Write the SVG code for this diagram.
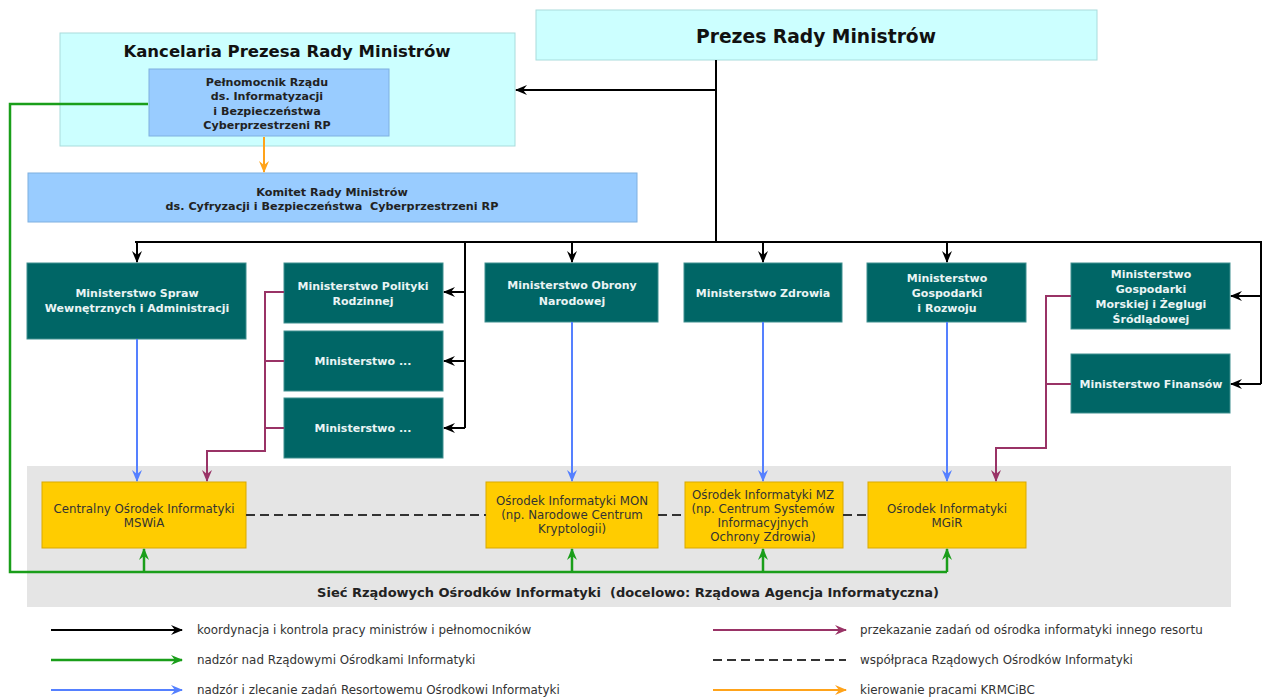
<svg xmlns="http://www.w3.org/2000/svg" width="1262" height="700" viewBox="0 0 1262 700">
<style>
.t{font-family:"DejaVu Sans","Noto Sans",sans-serif;text-anchor:middle}
.min rect{fill:#006666;stroke:#3f8f8f;stroke-width:1}
.min text{font-family:"DejaVu Sans","Noto Sans",sans-serif;font-weight:bold;font-size:11px;fill:#eaf4f4;text-anchor:middle}
.osr rect{fill:#ffcc00;stroke:#d9a900;stroke-width:1}
.osr text{font-family:"DejaVu Sans","Noto Sans",sans-serif;font-size:11.8px;fill:#333;text-anchor:middle}
.leg text{font-family:"DejaVu Sans","Noto Sans",sans-serif;font-size:11.9px;fill:#333}
.k{fill:none;stroke:#000;stroke-width:2}
.g{fill:none;stroke:#1a9e1a;stroke-width:2.5}
.b{fill:none;stroke:#5580ff;stroke-width:2}
.p{fill:none;stroke:#993366;stroke-width:2}
.o{fill:none;stroke:#ffa31a;stroke-width:2}
.d{fill:none;stroke:#333;stroke-width:2;stroke-dasharray:9 5}
</style>
<defs>
<marker id="ak" viewBox="0 0 12 10" refX="11" refY="5" markerWidth="12" markerHeight="10" markerUnits="userSpaceOnUse" orient="auto"><path d="M0,0 L12,5 L0,10 L4,5 z" fill="#000"/></marker>
<marker id="ag" viewBox="0 0 12 10" refX="11" refY="5" markerWidth="12" markerHeight="10" markerUnits="userSpaceOnUse" orient="auto"><path d="M0,0 L12,5 L0,10 L4,5 z" fill="#1a9e1a"/></marker>
<marker id="ab" viewBox="0 0 12 10" refX="11" refY="5" markerWidth="12" markerHeight="10" markerUnits="userSpaceOnUse" orient="auto"><path d="M0,0 L12,5 L0,10 L4,5 z" fill="#5580ff"/></marker>
<marker id="ap" viewBox="0 0 12 10" refX="11" refY="5" markerWidth="12" markerHeight="10" markerUnits="userSpaceOnUse" orient="auto"><path d="M0,0 L12,5 L0,10 L4,5 z" fill="#993366"/></marker>
<marker id="ao" viewBox="0 0 12 10" refX="11" refY="5" markerWidth="12" markerHeight="10" markerUnits="userSpaceOnUse" orient="auto"><path d="M0,0 L12,5 L0,10 L4,5 z" fill="#ffa31a"/></marker>
</defs>
<rect width="1262" height="700" fill="#fff"/>

<g id="siec">
<rect x="27" y="466" width="1204" height="141" fill="#e5e5e5"/>
<text class="t" x="628" y="597" font-size="13" font-weight="bold" fill="#222">Sieć Rządowych Ośrodków Informatyki&#160; (docelowo: Rządowa Agencja Informatyczna)</text>
</g>

<g id="kancelaria">
<rect x="60" y="33" width="455" height="113" fill="#ccffff" stroke="#a9dcdc" stroke-width="1"/>
<text class="t" x="287" y="57" font-size="16.5" font-weight="bold" fill="#111">Kancelaria Prezesa Rady Ministrów</text>
</g>

<g id="prezes">
<rect x="536" y="10" width="561" height="50" fill="#ccffff" stroke="#a9dcdc" stroke-width="1"/>
<text class="t" x="816" y="43" font-size="18.7" font-weight="bold" fill="#111">Prezes Rady Ministrów</text>
</g>

<g id="pelnomocnik">
<rect x="149" y="69" width="240" height="67" fill="#99ccff" stroke="#7fb0e0" stroke-width="1"/>
<text class="t" font-size="11.1" font-weight="bold" fill="#222"><tspan x="267" y="86">Pełnomocnik Rządu</tspan><tspan x="267" y="100">ds. Informatyzacji</tspan><tspan x="267" y="115">i Bezpieczeństwa</tspan><tspan x="267" y="129">Cyberprzestrzeni RP</tspan></text>
</g>

<g id="komitet">
<rect x="28" y="173" width="609" height="49" fill="#99ccff" stroke="#7fb0e0" stroke-width="1"/>
<text class="t" font-size="11.2" font-weight="bold" fill="#222"><tspan x="332" y="196">Komitet Rady Ministrów</tspan><tspan x="332" y="210">ds. Cyfryzacji i Bezpieczeństwa&#160; Cyberprzestrzeni RP</tspan></text>
</g>

<g id="mswia" class="min"><rect x="27" y="263" width="219" height="76"/><text><tspan x="137" y="297">Ministerstwo Spraw</tspan><tspan x="137" y="312">Wewnętrznych i Administracji</tspan></text></g>
<g id="mpr" class="min"><rect x="284" y="263" width="159" height="60"/><text><tspan x="363" y="290">Ministerstwo Polityki</tspan><tspan x="363" y="305">Rodzinnej</tspan></text></g>
<g id="m2" class="min"><rect x="284" y="331" width="159" height="60"/><text x="363" y="365">Ministerstwo ...</text></g>
<g id="m3" class="min"><rect x="284" y="398" width="159" height="60"/><text x="363" y="432">Ministerstwo ...</text></g>
<g id="mon" class="min"><rect x="485" y="263" width="173" height="59"/><text><tspan x="572" y="289">Ministerstwo Obrony</tspan><tspan x="572" y="305">Narodowej</tspan></text></g>
<g id="mz" class="min"><rect x="684" y="263" width="158" height="59"/><text x="763" y="297">Ministerstwo Zdrowia</text></g>
<g id="mgir" class="min"><rect x="867" y="263" width="159" height="59"/><text><tspan x="947" y="282">Ministerstwo</tspan><tspan x="947" y="297">Gospodarki</tspan><tspan x="947" y="312">i Rozwoju</tspan></text></g>
<g id="mgm" class="min"><rect x="1071" y="263" width="159" height="66"/><text><tspan x="1151" y="278">Ministerstwo</tspan><tspan x="1151" y="293">Gospodarki</tspan><tspan x="1151" y="308">Morskiej i Żeglugi</tspan><tspan x="1151" y="323">Śródlądowej</tspan></text></g>
<g id="mf" class="min"><rect x="1071" y="354" width="159" height="59"/><text x="1151" y="388">Ministerstwo Finansów</text></g>

<g id="coi" class="osr"><rect x="42" y="482" width="204" height="66"/><text><tspan x="144" y="513">Centralny Ośrodek Informatyki</tspan><tspan x="144" y="527">MSWiA</tspan></text></g>
<g id="oimon" class="osr"><rect x="486" y="482" width="172" height="66"/><text><tspan x="572" y="505">Ośrodek Informatyki MON</tspan><tspan x="572" y="519">(np. Narodowe Centrum</tspan><tspan x="572" y="533">Kryptologii)</tspan></text></g>
<g id="oimz" class="osr"><rect x="685" y="482" width="158" height="66"/><text><tspan x="763" y="499">Ośrodek Informatyki MZ</tspan><tspan x="763" y="513">(np. Centrum Systemów</tspan><tspan x="763" y="527">Informacyjnych</tspan><tspan x="763" y="541">Ochrony Zdrowia)</tspan></text></g>
<g id="oimgir" class="osr"><rect x="868" y="482" width="158" height="66"/><text><tspan x="947" y="513">Ośrodek Informatyki</tspan><tspan x="947" y="527">MGiR</tspan></text></g>

<g id="connectors">
<path class="k" d="M716,60 V242"/>
<path class="k" d="M716,90 H516" marker-end="url(#ak)"/>
<path class="k" d="M135,242 H1261 V384"/>
<path class="k" d="M137,242 V262" marker-end="url(#ak)"/>
<path class="k" d="M572,242 V262" marker-end="url(#ak)"/>
<path class="k" d="M763,242 V262" marker-end="url(#ak)"/>
<path class="k" d="M947,242 V262" marker-end="url(#ak)"/>
<path class="k" d="M465,242 V428"/>
<path class="k" d="M465,292 H444" marker-end="url(#ak)"/>
<path class="k" d="M465,361 H444" marker-end="url(#ak)"/>
<path class="k" d="M465,428 H444" marker-end="url(#ak)"/>
<path class="k" d="M1261,296 H1231" marker-end="url(#ak)"/>
<path class="k" d="M1261,384 H1231" marker-end="url(#ak)"/>
<path class="o" d="M264,137 V172" marker-end="url(#ao)"/>
<path class="g" d="M148,104 H10 V572 H947"/>
<path class="g" d="M144,572 V549" marker-end="url(#ag)"/>
<path class="g" d="M572,572 V549" marker-end="url(#ag)"/>
<path class="g" d="M763,572 V549" marker-end="url(#ag)"/>
<path class="g" d="M947,572 V549" marker-end="url(#ag)"/>
<path class="b" d="M137,339 V481" marker-end="url(#ab)"/>
<path class="b" d="M572,322 V481" marker-end="url(#ab)"/>
<path class="b" d="M763,322 V481" marker-end="url(#ab)"/>
<path class="b" d="M947,322 V481" marker-end="url(#ab)"/>
<path class="p" d="M284,292 H265 V451 H207 V481" marker-end="url(#ap)"/>
<path class="p" d="M265,361 H284 M265,428 H284"/>
<path class="p" d="M1071,296 H1046 V448 H996 V481" marker-end="url(#ap)"/>
<path class="p" d="M1046,384 H1071"/>
<path class="d" d="M246,515 H486 M658,515 H685 M843,515 H868"/>
</g>

<g id="legend" class="leg">
<path class="k" d="M51,630 H182" marker-end="url(#ak)"/>
<text x="197" y="634">koordynacja i kontrola pracy ministrów i pełnomocników</text>
<path class="g" d="M51,660 H182" marker-end="url(#ag)"/>
<text x="197" y="664">nadzór nad Rządowymi Ośrodkami Informatyki</text>
<path class="b" d="M51,690 H182" marker-end="url(#ab)"/>
<text x="197" y="694">nadzór i zlecanie zadań Resortowemu Ośrodkowi Informatyki</text>
<path class="p" d="M713,630 H846" marker-end="url(#ap)"/>
<text x="860" y="634">przekazanie zadań od ośrodka informatyki innego resortu</text>
<path class="d" d="M713,660 H846"/>
<text x="860" y="664">współpraca Rządowych Ośrodków Informatyki</text>
<path class="o" d="M713,690 H846" marker-end="url(#ao)"/>
<text x="860" y="694">kierowanie pracami KRMCiBC</text>
</g>
</svg>
